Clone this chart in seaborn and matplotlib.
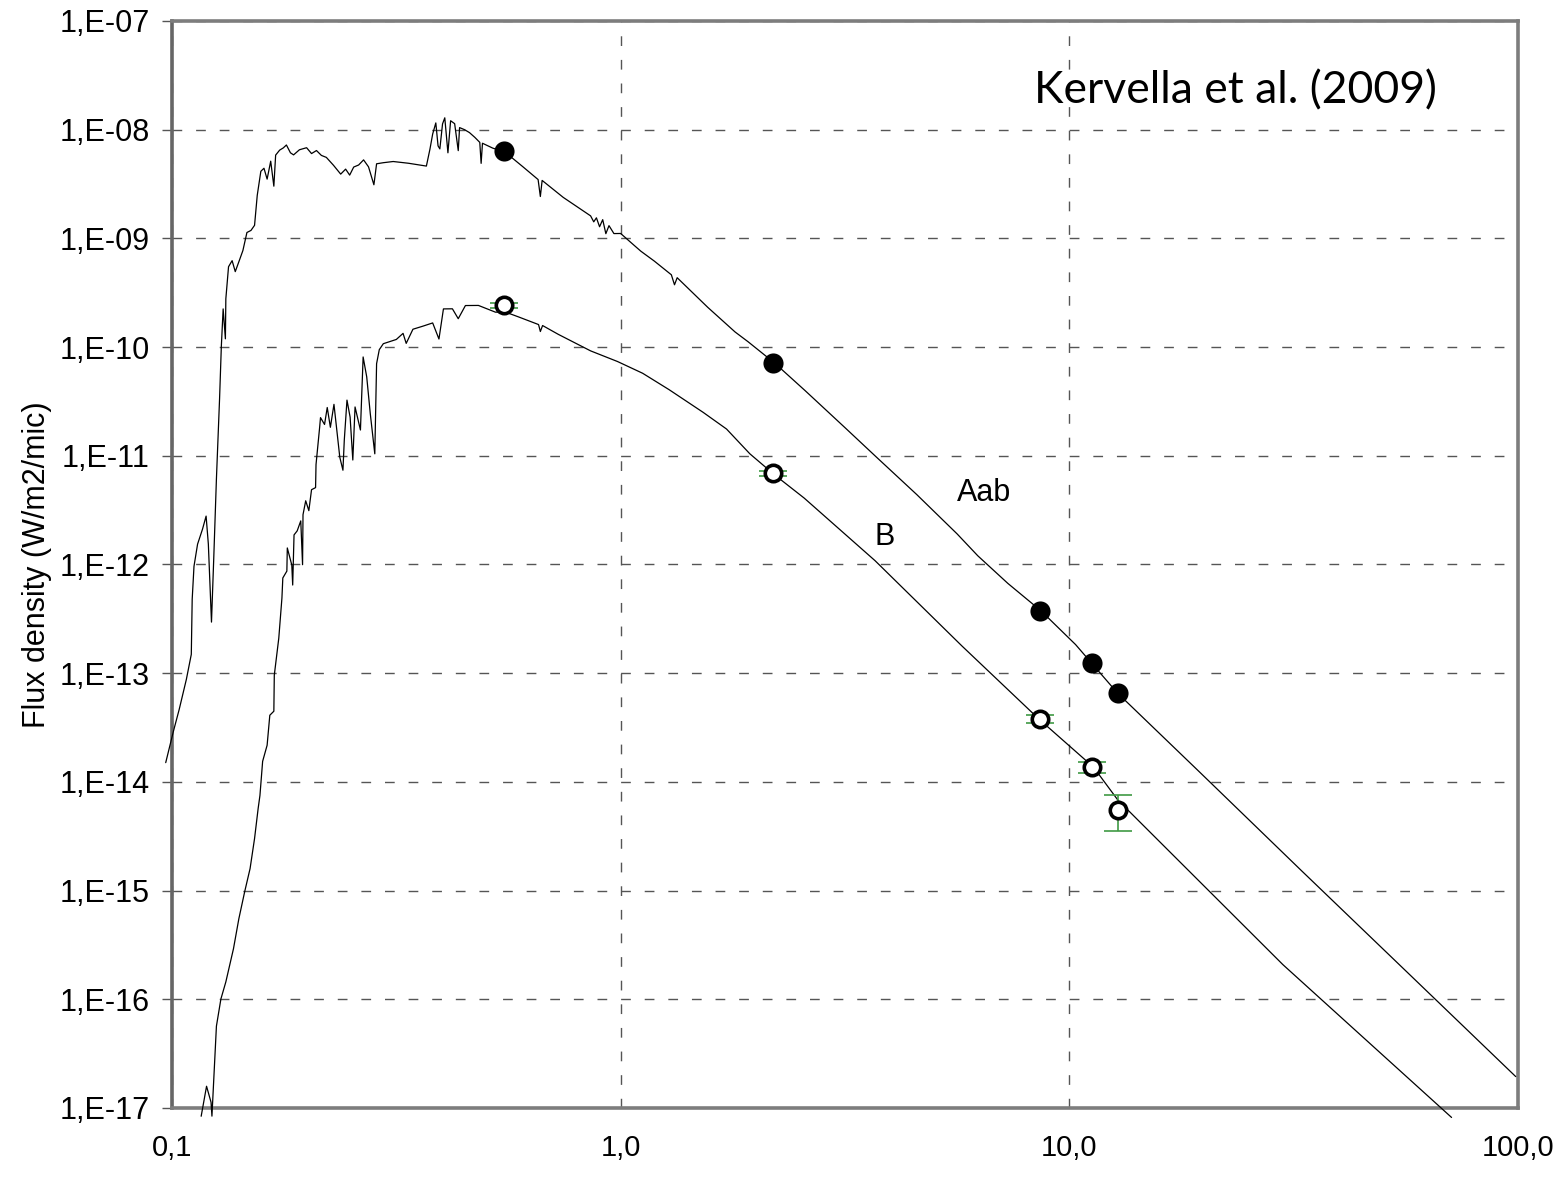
import numpy as np
import pandas as pd
import matplotlib
matplotlib.use("Agg")
import matplotlib.pyplot as plt
from matplotlib.ticker import NullLocator
import seaborn as sns

# Broadband photometry (wavelength in micron, flux density in W/m2/micron)
phot_wavelength = [0.55, 2.19, 8.59, 11.25, 12.81]
aab_flux = [6.4e-9, 7.1e-11, 3.7e-13, 1.23e-13, 6.6e-14]
b_flux = [2.43e-10, 6.9e-12, 3.8e-14, 1.36e-14, 5.5e-15]
b_flux_err = [1.2e-11, 3.4e-13, 3.0e-15, 1.6e-15, 2.0e-15]

# Model spectra, tabulated as log10(wavelength / micron) and log10(flux)
aab_log_wl = [-1.014, -0.997, -0.984, -0.968, -0.957, -0.955, -0.951, -0.943, -0.932, -0.924,
              -0.919, -0.912, -0.907, -0.901, -0.894, -0.890, -0.886, -0.881, -0.880, -0.874,
              -0.866, -0.859, -0.850, -0.842, -0.833, -0.824, -0.816, -0.810, -0.802, -0.795,
              -0.788, -0.780, -0.773, -0.769, -0.760, -0.752, -0.745, -0.736, -0.729, -0.716,
              -0.700, -0.689, -0.678, -0.667, -0.656, -0.640, -0.624, -0.613, -0.604, -0.595,
              -0.584, -0.573, -0.562, -0.550, -0.544, -0.529, -0.507, -0.473, -0.433, -0.425,
              -0.419, -0.412, -0.407, -0.403, -0.397, -0.392, -0.385, -0.379, -0.370, -0.362,
              -0.359, -0.348, -0.337, -0.325, -0.314, -0.311, -0.308, -0.285, -0.258, -0.218,
              -0.184, -0.179, -0.175, -0.128, -0.067, -0.060, -0.054, -0.047, -0.040, -0.033,
              -0.026, -0.015, 0.000, 0.030, 0.045, 0.075, 0.113, 0.120, 0.126, 0.194,
              0.255, 0.284, 0.344, 0.412, 0.502, 0.570, 0.660, 0.750, 0.796, 0.863,
              0.937, 1.014, 1.050, 1.107, 1.292, 1.517, 1.742, 1.995]
aab_log_flux = [-13.823, -13.537, -13.334, -13.057, -12.827, -12.320, -12.017, -11.813, -11.675, -11.555,
                -11.812, -12.530, -11.949, -11.213, -10.477, -9.989, -9.649, -9.924, -9.556, -9.261,
                -9.205, -9.306, -9.204, -9.112, -8.946, -8.927, -8.880, -8.604, -8.383, -8.355,
                -8.455, -8.290, -8.520, -8.234, -8.188, -8.168, -8.141, -8.213, -8.232, -8.185,
                -8.166, -8.220, -8.192, -8.237, -8.255, -8.328, -8.409, -8.363, -8.418, -8.344,
                -8.325, -8.278, -8.342, -8.507, -8.314, -8.304, -8.293, -8.309, -8.335, -8.178,
                -8.040, -7.938, -8.149, -8.177, -7.947, -7.891, -8.213, -7.918, -7.945, -8.193,
                -7.981, -8.000, -8.027, -8.071, -8.117, -8.310, -8.125, -8.170, -8.205, -8.341,
                -8.459, -8.615, -8.467, -8.623, -8.793, -8.848, -8.811, -8.893, -8.828, -8.957,
                -8.883, -8.956, -8.955, -9.064, -9.118, -9.209, -9.335, -9.427, -9.362, -9.634,
                -9.861, -9.951, -10.150, -10.404, -10.749, -11.012, -11.357, -11.719, -11.920, -12.174,
                -12.427, -12.737, -12.909, -13.181, -13.916, -14.815, -15.707, -16.711]

b_log_wl = [-0.935, -0.923, -0.913, -0.911, -0.901, -0.891, -0.880, -0.863, -0.851, -0.838,
            -0.826, -0.816, -0.808, -0.804, -0.798, -0.788, -0.782, -0.773, -0.772, -0.762,
            -0.755, -0.753, -0.744, -0.743, -0.733, -0.731, -0.728, -0.721, -0.713, -0.709,
            -0.708, -0.702, -0.695, -0.689, -0.680, -0.679, -0.671, -0.669, -0.660, -0.654,
            -0.647, -0.639, -0.626, -0.619, -0.616, -0.610, -0.603, -0.597, -0.592, -0.580,
            -0.574, -0.566, -0.558, -0.548, -0.544, -0.538, -0.529, -0.500, -0.485, -0.478,
            -0.463, -0.441, -0.419, -0.405, -0.395, -0.375, -0.362, -0.346, -0.317, -0.279,
            -0.257, -0.228, -0.183, -0.179, -0.174, -0.139, -0.067, -0.007, 0.049, 0.108,
            0.184, 0.236, 0.288, 0.342, 0.409, 0.567, 0.761, 0.932, 1.054, 1.108,
            1.476, 1.852]
b_log_flux = [-17.076, -16.800, -16.947, -17.075, -16.247, -15.997, -15.840, -15.535, -15.259, -15.010,
              -14.798, -14.521, -14.245, -14.125, -13.811, -13.663, -13.387, -13.350, -13.018, -12.678,
              -12.309, -12.124, -12.061, -11.848, -12.005, -12.189, -11.728, -11.691, -11.599, -12.002,
              -11.542, -11.414, -11.505, -11.312, -11.293, -11.081, -10.741, -10.649, -10.712, -10.556,
              -10.738, -10.527, -11.014, -11.133, -10.857, -10.488, -10.645, -11.039, -10.551, -10.763,
              -10.091, -10.274, -10.615, -10.982, -10.153, -10.024, -9.969, -9.930, -9.874, -9.966,
              -9.836, -9.808, -9.778, -9.926, -9.649, -9.648, -9.739, -9.618, -9.617, -9.679,
              -9.678, -9.722, -9.793, -9.857, -9.802, -9.883, -10.035, -10.133, -10.241, -10.392,
              -10.601, -10.754, -10.982, -11.172, -11.389, -11.965, -12.751, -13.421, -13.865, -14.166,
              -15.681, -17.087]

y_ticks = [1e-17, 1e-16, 1e-15, 1e-14, 1e-13, 1e-12, 1e-11, 1e-10, 1e-9, 1e-8, 1e-7]
y_tick_labels = ["1,E-17", "1,E-16", "1,E-15", "1,E-14", "1,E-13", "1,E-12",
                 "1,E-11", "1,E-10", "1,E-09", "1,E-08", "1,E-07"]
x_ticks = [0.1, 1.0, 10.0, 100.0]
x_tick_labels = ["0,1", "1,0", "10,0", "100,0"]

sns.set_style("white")
plt.rcParams["font.family"] = ["Liberation Sans", "DejaVu Sans"]
plt.rcParams["text.color"] = "black"
plt.rcParams["xtick.color"] = "black"
plt.rcParams["ytick.color"] = "black"
plt.rcParams["axes.labelcolor"] = "black"

fig = plt.figure(figsize=(15.58, 11.84), dpi=100)
ax = fig.add_axes([0.1104, 0.0642, 0.9743 - 0.1104, 0.9823 - 0.0642])
ax.set_xscale("log")
ax.set_yscale("log")

spec_aab = pd.DataFrame({"wavelength": 10 ** np.array(aab_log_wl),
                         "flux": 10 ** np.array(aab_log_flux)})
spec_b = pd.DataFrame({"wavelength": 10 ** np.array(b_log_wl),
                       "flux": 10 ** np.array(b_log_flux)})
phot_aab = pd.DataFrame({"wavelength": phot_wavelength, "flux": aab_flux})
phot_b = pd.DataFrame({"wavelength": phot_wavelength, "flux": b_flux, "err": b_flux_err})

sns.lineplot(data=spec_aab, x="wavelength", y="flux", ax=ax, sort=False, estimator=None,
             color="black", linewidth=0.9, clip_on=False, zorder=3)
sns.lineplot(data=spec_b, x="wavelength", y="flux", ax=ax, sort=False, estimator=None,
             color="black", linewidth=0.9, clip_on=False, zorder=3)

ax.errorbar(phot_b["wavelength"], phot_b["flux"], yerr=phot_b["err"], fmt="none",
            ecolor="#3f9a44", elinewidth=1.2, capsize=10, capthick=1.2, zorder=4)
sns.scatterplot(data=phot_aab, x="wavelength", y="flux", ax=ax, s=210, color="black",
                linewidth=0, zorder=5)
sns.scatterplot(data=phot_b, x="wavelength", y="flux", ax=ax, s=140, facecolor="white",
                edgecolor="black", linewidth=2.6, zorder=5)

ax.set_xlim(0.1, 100)
ax.set_ylim(1e-17, 1e-7)
ax.set_xticks(x_ticks, x_tick_labels)
ax.set_yticks(y_ticks, y_tick_labels)
ax.xaxis.set_minor_locator(NullLocator())
ax.yaxis.set_minor_locator(NullLocator())
ax.set_xlabel("")
ax.set_ylabel("")

ax.grid(True, which="major", color="#555555", linestyle=(0, (7, 10)), linewidth=1.0)
ax.tick_params(axis="y", which="major", direction="out", length=7, width=1.0,
               color="#555555", labelcolor="black", pad=9, labelsize=22, left=True)
ax.tick_params(axis="x", which="major", length=0, pad=19, labelsize=21, labelcolor="black")
for lbl in ax.get_yticklabels():
    lbl.set_bbox(dict(facecolor="white", edgecolor="none", pad=3))

for side in ["left", "bottom", "right", "top"]:
    ax.spines[side].set_visible(True)
    ax.spines[side].set_color("#7d7d7d")
    ax.spines[side].set_linewidth(2.6)
ax.spines["left"].set_color("#666666")

ax.text(6.44, 4.5e-12, "Aab", fontsize=22, ha="center", va="center", zorder=6)
ax.text(3.87, 1.79e-12, "B", fontsize=22, ha="center", va="center", zorder=6)

fig.text(0.0235, 0.523, "Flux density (W/m2/mic)", rotation=90, fontsize=22,
         ha="center", va="center", zorder=-1)
fig.text(0.6637, 0.913, "Kervella et al. (2009)", fontsize=32,
         family=["Lato", "DejaVu Sans"], ha="left", va="baseline")

fig.savefig("out.png", dpi=100)
